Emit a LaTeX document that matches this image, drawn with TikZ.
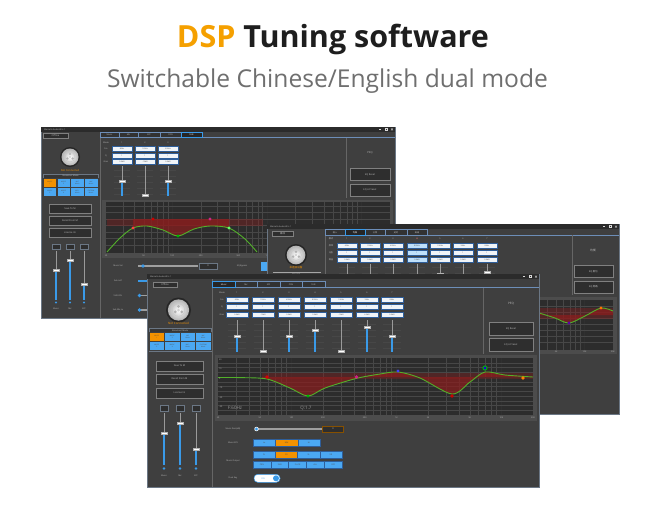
\documentclass[tikz,border=0pt]{standalone}
\usepackage{fontspec}
\setmainfont{Open Sans}
\newfontfamily\cjk{Noto Sans CJK SC}
\usetikzlibrary{calc}
\definecolor{dspor}{HTML}{F5A000}
\definecolor{ttlc}{HTML}{1E1E1E}
\definecolor{subc}{HTML}{6F6F6F}
\definecolor{winbg}{HTML}{3F3F3F}
\definecolor{tbar}{HTML}{2B2B2B}
\definecolor{edge}{HTML}{6B7785}
\definecolor{plotc}{HTML}{2C2C2C}
\definecolor{gridc}{HTML}{474747}
\definecolor{boxc}{HTML}{F0F4F8}
\definecolor{boxe}{HTML}{2E5E9A}
\definecolor{ublue}{HTML}{3A9AE8}
\definecolor{cellb}{HTML}{4BA8F2}
\definecolor{lcell}{HTML}{BFE0FA}
\definecolor{orng}{HTML}{F39200}
\definecolor{lbl}{HTML}{BDBDBD}
\definecolor{btnc}{HTML}{2E2E2E}
\definecolor{curvg}{HTML}{52B02A}
\definecolor{redf}{HTML}{8C1D1D}
\definecolor{trkc}{HTML}{9A9A9A}
\tikzset{
  win/.style={fill=winbg,draw=edge,line width=0.7pt},
  tx/.style={font=\fontsize{2.6}{3}\selectfont,text=lbl,inner sep=0pt},
  txs/.style={font=\fontsize{2.1}{2.5}\selectfont,text=lbl,inner sep=0pt},
  vbox/.style={fill=boxc,draw=boxe,line width=0.5pt,font=\fontsize{1.9}{2.3}\selectfont,text=black!70,inner sep=0pt,minimum height=5pt},
  darkbtn/.style={fill=btnc,draw=black!50,line width=0.3pt,font=\fontsize{2.4}{2.8}\selectfont,text=lbl,inner sep=0pt},
  tabfill/.style={fill=winbg!80!black,draw=boxe!70!white,line width=0.4pt},
  tabonfill/.style={fill=winbg!60!black,draw=ublue,line width=0.6pt},
  cellnode/.style={draw=winbg,line width=0.4pt,font=\fontsize{1.6}{1.9}\selectfont,text=black!70,inner sep=0pt,align=center},
  trk/.style={draw=trkc,line width=0.9pt},
  btrk/.style={draw=ublue,line width=1.1pt},
  hdl/.style={fill=white,draw=gray!60,line width=0.2pt},
  gridl/.style={draw=gridc,line width=0.3pt},
  gridm/.style={draw=gray!38!black,line width=0.35pt},
  crv/.style={draw=curvg,line width=0.9pt},
  redband/.style={fill=redf,opacity=0.38},
  reddip/.style={fill=redf,opacity=0.7},
  ctrlmark/.style={draw=white!85!black,line width=0.3pt},
  sepl/.style={draw=black!60,line width=0.5pt},
}
\newcommand\wctrls[2]{%
  \draw[ctrlmark] ({#1-15},#2)--({#1-13},#2);
  \draw[ctrlmark] ({#1-9},{#2-1}) rectangle ({#1-7},{#2+1});
  \draw[ctrlmark] ({#1-3},{#2-1})--({#1-1},{#2+1}) ({#1-3},{#2+1})--({#1-1},{#2-1});
}
\newcommand\knobdraw[3]{%
  \fill[black!85] (#1,#2) circle [radius=#3pt];
  \shade[inner color=white,outer color=gray!60] (#1,#2) circle [radius={0.85*#3pt}];
  \draw[gray!45,line width=0.3pt] (#1,#2) circle [radius={0.5*#3pt}];
  \foreach \ka in {90,210,330} \fill[gray!60] ($(#1,#2)+(\ka:{0.3*#3pt})$) circle [radius={0.12*#3pt}];
  \fill[gray!35] (#1,#2) circle [radius={0.12*#3pt}];
}
\begin{document}
\begin{tikzpicture}[x=1pt,y=-1pt]
\useasboundingbox (0,0) rectangle (660,507);
\fill[white] (0,0) rectangle (660,507);
% ---------- titles
\node[anchor=base,inner sep=0pt,font=\fontsize{30.5}{34}\selectfont\bfseries] (title) at (333,47) {\color{dspor}DSP \color{ttlc}Tuning software};
\node[anchor=base,inner sep=0pt,font=\fontsize{24.6}{29}\selectfont,text=subc] (subtitle) at (327.5,87.5) {Switchable Chinese/English dual mode};

% ================= BACK WINDOW (English) =================
\draw[win] (41,127) rectangle (395,318);
\fill[tbar] (41.35,127.35) rectangle (394.65,131.5);
\node[txs,anchor=west] (w1ttl) at (44,129.4) {Marcello Audio Wi.s.1};
\wctrls{394}{129.4}
\draw[sepl] (100,131.5)--(100,317.6);
\node[darkbtn,minimum width=25pt,minimum height=4.5pt] (w1off) at (55.5,135.5) {Offline};
\knobdraw{70}{157}{10}
\node[tx,text=orng] (w1nc) at (70,171) {Not Connected};
\draw[edge,line width=0.4pt,fill=winbg!85!black] (43,174.5) rectangle (98,196.5);
\node[txs] (w1bm) at (70.5,176.2) {Broadcast Mode};
\foreach \i/\fc/\t in {0/orng/{MUSIC\\1},1/cellb/{MUSIC\\2},2/cellb/{MIC\\Music},3/cellb/{MIC\\Music}}
  \node[cellnode,fill=\fc,minimum width=13.6pt,minimum height=8.8pt] (w1ca\i) at ({43+6.85+13.75*\i},182.6) {\t};
\foreach \i/\t in {0/{MUSIC\\3},1/{MUSIC\\4},2/{MIC+\\Music},3/{CUSTOM\\Music}}
  \node[cellnode,fill=cellb,minimum width=13.6pt,minimum height=8.8pt] (w1cb\i) at ({43+6.85+13.75*\i},191.6) {\t};
\node[darkbtn,minimum width=42pt,minimum height=9pt] (w1b1) at (70,208.5) {Save To M};
\node[darkbtn,minimum width=42pt,minimum height=9pt] (w1b2) at (70,221) {Recall From M};
\node[darkbtn,minimum width=42pt,minimum height=9pt] (w1b3) at (70,233) {License Ini};
\foreach \sx/\hy/\nm [count=\i] in {56/270/Music,70/260/Mic,84/284/EFF} {
  \node[darkbtn,draw=edge,minimum width=8pt,minimum height=5pt] (w1sb\i) at (\sx,247) {};
  \draw[trk] (\sx,251)--(\sx,\hy);
  \draw[btrk] (\sx,\hy)--(\sx,300);
  \fill[hdl] (\sx-3,\hy-1.2) rectangle (\sx+3,\hy+1.2);
  \fill[ublue] (\sx,302.5) circle [radius=1.1pt];
  \node[txs] (w1sl\i) at (\sx,309) {\nm};
}
% tabs
\draw[boxe!70!white,line width=0.4pt] (100,137.5)--(394.6,137.5);
\foreach \a/\b/\t [count=\i] in {100/119/Music,119/138/Mic,138/160/EFF,160/181/CON} {
  \draw[tabfill] (\a,132) rectangle (\b,137.5);
  \node[txs] (w1tab\i) at ({(\a+\b)/2},134.8) {\t};
}
\draw[tabonfill] (181,132) rectangle (202,137.5);
\node[txs,text=white] (w1tab5) at (191.5,134.8) {SUB};
\node[txs] (w1mode) at (106,143) {Mode};
\node[txs] (w1fre) at (106,148.5) {Fre};
\node[txs] (w1q) at (106,155.5) {Q};
\node[txs] (w1gain) at (106,161.5) {Gain};
\foreach \cx/\hy/\fv/\gv [count=\i] in {122/181/80Hz/0.0dB,145/195/120Hz/-12dB,168/181/200Hz/0.0dB} {
  \node[txs] (w1n\i) at (\cx,143) {\i};
  \node[vbox,minimum width=20pt] (w1f\i) at (\cx,148.5) {\fv};
  \node[vbox,minimum width=20pt] (w1q\i) at (\cx,155.5) {1};
  \node[vbox,minimum width=20pt] (w1g\i) at (\cx,161.8) {\gv};
  \foreach \yy in {170,176,182,188,194} \draw[gridl] (\cx-8,\yy)--(\cx+8,\yy);
  \draw[trk] (\cx,166)--(\cx,\hy);
  \draw[btrk] (\cx,\hy)--(\cx,196);
  \fill[hdl] (\cx-3,\hy-1.2) rectangle (\cx+3,\hy+1.2);
}
\draw[sepl] (346,138)--(346,198);
\node[tx] (w1peq) at (370,153) {PEQ};
\node[darkbtn,minimum width=40pt,minimum height=12pt] (w1r1) at (370,174.5) {EQ Reset};
\node[darkbtn,minimum width=40pt,minimum height=12pt] (w1r2) at (370,190) {EQ A Preset};
% graph
\fill[black!70] (102,199.5) rectangle (393,258);
\fill[plotc] (106,202) rectangle (390,253);
\foreach \r in {1.5,2,2.5,3,3.5,4,4.5,10,15,20,25,30,35,40,45,100,150,200,250,300,350,400,450}
  \draw[gridl] ({106+94.67*log10(\r)},202)--({106+94.67*log10(\r)},253);
\foreach \r in {5,50,500} \draw[gridm] ({106+94.67*log10(\r)},202)--({106+94.67*log10(\r)},253);
\foreach \yy in {206,212.5,219,225.5,232,238.5,245} \draw[gridl] (106,\yy)--(390,\yy);
\fill[redband] (107,219) rectangle (263,226);
\fill[reddip] (133,219) -- plot[smooth] coordinates {(133,228) (147,226) (163,230) (178,236) (194,229) (210,226) (229,228)} -- (229,219) -- cycle;
\draw[crv] plot[smooth] coordinates {(107,252) (120,238) (133,228) (147,226) (163,230) (178,236) (194,229) (210,226) (229,228) (245,239) (257,252)};
\fill[red!75!white] (133,228) circle [radius=1.6pt];
\fill[red!80!black] (153,219) circle [radius=1.7pt];
\fill[green!70!black] (178,236) circle [radius=1.6pt];
\fill[magenta!80!black] (210,219) circle [radius=1.7pt];
\fill[green!60!white] (229,228) circle [radius=1.6pt];
\foreach \r/\t [count=\i] in {1/20,2.5/50,5/100,10/200,25/500,50/1K} \node[txs] (w1ax\i) at ({106+94.67*log10(\r)},255.6) {\t};
% lower controls
\node[txs] (w1l1) at (118,266) {Music Vol};
\draw[gray!75,line width=1.2pt] (138,266)--(198,266);
\fill[ublue] (143,266) circle [radius=1.8pt];
\node[darkbtn,draw=edge,minimum width=18pt,minimum height=6pt] (w1v1) at (208,266) {0};
\node[txs] (w1l2) at (242,266) {EQ Bypass};
\fill[cellb] (261,262) rectangle (266.5,270.5);
\node[txs] (w1l3) at (118,281) {Sub Left};
\draw[ublue,line width=1.2pt] (138,281)--(150,281);
\node[txs] (w1l4) at (118,295.5) {SUB VOL};
\draw[gray!75,line width=1.2pt] (138,295.5)--(150,295.5);
\fill[ublue] (139.5,295.5) circle [radius=1.8pt];
\node[txs] (w1l5) at (118,310) {Sub Mix Lv};
\draw[gray!75,line width=1.2pt] (138,310)--(150,310);
\fill[ublue] (139.5,310) circle [radius=1.8pt];

% ================= MIDDLE WINDOW (Chinese) =================
\draw[win] (267,224) rectangle (619,414);
\fill[tbar] (267.35,224.35) rectangle (618.65,229);
\node[txs,anchor=west] (w2ttl) at (270,226.6) {Marcello Audio Wi.s.1};
\wctrls{618}{226.6}
\draw[sepl] (325,229)--(325,290);
\node[darkbtn,minimum width=21pt,minimum height=4.5pt,font=\cjk\fontsize{2.4}{2.8}\selectfont] (w2off) at (282.5,233.5) {离线};
\knobdraw{296}{255}{11}
\node[tx,text=orng,font=\cjk\fontsize{2.6}{3}\selectfont] (w2nc) at (296,268) {未连接设备};
\fill[black!35] (273,271.5) rectangle (321,272.5);
\node[txs,font=\cjk\fontsize{2.1}{2.5}\selectfont] (w2bt) at (296,274.5) {蓝牙连接};
\draw[boxe!70!white,line width=0.4pt] (325,235)--(618.6,235);
\foreach \a/\b/\t [count=\i] in {325/345/输入,365/385/分频,385/407/延时,407/427/高级} {
  \draw[tabfill] (\a,229.5) rectangle (\b,235);
  \node[txs,font=\cjk\fontsize{2.1}{2.5}\selectfont] (w2tab\i) at ({(\a+\b)/2},232.3) {\t};
}
\draw[tabonfill] (345,229.5) rectangle (365,235);
\node[txs,text=white,font=\cjk\fontsize{2.1}{2.5}\selectfont] (w2tabon) at (355,232.3) {均衡};
\node[txs,font=\cjk\fontsize{2.1}{2.5}\selectfont] (w2mode) at (331,239) {模式};
\node[txs,font=\cjk\fontsize{2.1}{2.5}\selectfont] (w2fre) at (331,245.5) {频率};
\node[txs,font=\cjk\fontsize{2.1}{2.5}\selectfont] (w2q) at (331,252.5) {Q值};
\node[txs,font=\cjk\fontsize{2.1}{2.5}\selectfont] (w2gain) at (331,259.5) {增益};
\foreach \cx/\hy/\fv/\bc [count=\i] in {347/300/60Hz/boxc,370/300/150Hz/boxc,393/300/400Hz/boxc,417/300/800Hz/lcell,440/274/1.5KHz/boxc,463/300/3KHz/boxc,487/272/8KHz/boxc} {
  \node[txs] (w2n\i) at (\cx,239) {\i};
  \node[vbox,fill=\bc,minimum width=20pt] (w2f\i) at (\cx,245.5) {\fv};
  \node[vbox,fill=\bc,minimum width=20pt] (w2q\i) at (\cx,252.5) {1};
  \node[vbox,fill=\bc,minimum width=20pt] (w2g\i) at (\cx,259.5) {0.0dB};
  \foreach \yy in {267,273} \draw[gridl] (\cx-8,\yy)--(\cx+8,\yy);
  \draw[trk] (\cx,263.5)--(\cx,\hy);
  \draw[btrk] (\cx,\hy)--(\cx,300);
  \fill[hdl] (\cx-3,\hy-1.2) rectangle (\cx+3,\hy+1.2);
}
\node[txs,text=red!80!white] (w2n4r) at (417,239) {4};
\draw[sepl] (572,235)--(572,295);
\node[tx,font=\cjk\fontsize{2.8}{3.2}\selectfont] (w2peq) at (593,250) {均衡};
\node[darkbtn,minimum width=39pt,minimum height=12pt,font=\cjk\fontsize{2.4}{2.8}\selectfont] (w2r1) at (593.5,271.5) {EQ 复位};
\node[darkbtn,minimum width=39pt,minimum height=12pt,font=\cjk\fontsize{2.4}{2.8}\selectfont] (w2r2) at (593.5,287) {EQ 旁路};
\fill[black!70] (326,297) rectangle (616.5,354);
\fill[plotc] (330,300) rectangle (613,349.5);
\foreach \r in {1.5,2,2.5,3,3.5,4,4.5,10,15,20,25,30,35,40,45,100,150,200,250,300,350,400,450}
  \draw[gridl] ({330+94.3*log10(\r)},300)--({330+94.3*log10(\r)},349.5);
\foreach \r in {5,50,500} \draw[gridm] ({330+94.3*log10(\r)},300)--({330+94.3*log10(\r)},349.5);
\foreach \yy in {306,312,318,324,330,336,342} \draw[gridl] (330,\yy)--(613,\yy);
\fill[redband] (330,308) rectangle (613,319);
\fill[reddip] (539,313) -- plot[smooth] coordinates {(539,313) (555,318) (569,323) (585,316) (601,308) (613,311)} -- (613,315) -- (539,315) -- cycle;
\draw[crv] plot[smooth] coordinates {(530,311) (539,313) (555,318) (569,323) (585,316) (601,308) (613,311)};
\fill[violet!70!blue] (569,323) circle [radius=1.6pt];
\fill[orange!90!red] (601,308) circle [radius=1.7pt];
\foreach \r/\t [count=\i] in {100/2K,250/5K,500/10K,1000/20K} \node[txs] (w2ax\i) at ({330+94.3*log10(\r)},351.8) {\t};

% ================= FRONT WINDOW (English) =================
\draw[win] (147,274) rectangle (539,487);
\fill[tbar] (147.35,274.35) rectangle (538.65,279);
\node[txs,anchor=west] (w3ttl) at (150,276.6) {Marcello Audio Wi.s.1};
\wctrls{538}{276.6}
\draw[sepl] (212,279)--(212,486.6);
\node[darkbtn,minimum width=24pt,minimum height=5pt] (w3off) at (165,284.5) {Offline};
\knobdraw{178.5}{310}{12.5}
\node[tx,text=orng,font=\fontsize{3}{3.4}\selectfont] (w3nc) at (178.5,323.5) {Not Connected};
\draw[edge,line width=0.4pt,fill=winbg!85!black] (149,328.5) rectangle (211,351);
\node[txs] (w3bm) at (180,330.4) {Broadcast Mode};
\foreach \i/\fc/\t in {0/orng/{MUSIC\\1},1/cellb/{MUSIC\\2},2/cellb/{MIC\\Music},3/cellb/{MIC\\Music}}
  \node[cellnode,fill=\fc,minimum width=15.3pt,minimum height=8.8pt] (w3ca\i) at ({149+7.75+15.5*\i},337) {\t};
\foreach \i/\t in {0/{MUSIC\\3},1/{MUSIC\\4},2/{MIC+\\Music},3/{CUSTOM\\Music}}
  \node[cellnode,fill=cellb,minimum width=15.3pt,minimum height=8.8pt] (w3cb\i) at ({149+7.75+15.5*\i},346) {\t};
\node[darkbtn,minimum width=47pt,minimum height=10pt] (w3b1) at (179.5,366) {Save To M};
\node[darkbtn,minimum width=47pt,minimum height=10pt] (w3b2) at (179.5,379) {Recall From M};
\node[darkbtn,minimum width=47pt,minimum height=10pt] (w3b3) at (179.5,393) {License Ini};
\foreach \sx/\hy/\nm [count=\i] in {164/433/Music,180/423/Mic,196/449/EFF} {
  \node[darkbtn,draw=edge,minimum width=8pt,minimum height=6pt] (w3sb\i) at (\sx,408) {};
  \draw[trk] (\sx,413)--(\sx,\hy);
  \draw[btrk] (\sx,\hy)--(\sx,465);
  \fill[hdl] (\sx-3.3,\hy-1.3) rectangle (\sx+3.3,\hy+1.3);
  \fill[ublue] (\sx,468.5) circle [radius=1.3pt];
  \node[txs] (w3sl\i) at (\sx,476) {\nm};
}
% tabs
\draw[boxe!70!white,line width=0.4pt] (212,287.5)--(538.6,287.5);
\foreach \a/\b/\t [count=\i] in {235/257/Mic,257/280/EFF,280/302/CON,302/325/SUB} {
  \draw[tabfill] (\a,281.5) rectangle (\b,287.5);
  \node[txs] (w3tab\i) at ({(\a+\b)/2},284.6) {\t};
}
\draw[tabonfill] (212.5,281.5) rectangle (235,287.5);
\node[txs,text=white] (w3tabon) at (223.7,284.6) {Music};
\node[txs] (w3mode) at (222,293) {Mode};
\node[txs] (w3fre) at (222,299.5) {Fre};
\node[txs] (w3q) at (222,306.5) {Q};
\node[txs] (w3gain) at (222,314.5) {Gain};
\foreach \cx/\hy/\fv/\gv [count=\i] in {237/336/60Hz/0.0dB,263/351/150Hz/-12dB,289/336/400Hz/0.0dB,315/330/800Hz/3.0dB,341/351/1.5KHz/-12dB,367/327/3KHz/4.5dB,392/336/8KHz/0.0dB} {
  \node[txs] (w3n\i) at (\cx,293) {\i};
  \node[vbox,minimum width=22pt] (w3f\i) at (\cx,299.5) {\fv};
  \node[vbox,minimum width=22pt] (w3q\i) at (\cx,306.5) {1};
  \node[vbox,minimum width=22pt] (w3g\i) at (\cx,314.5) {\gv};
  \foreach \yy in {324,330,336,342,348} \draw[gridl] (\cx-9,\yy)--(\cx+9,\yy);
  \draw[trk] (\cx,320)--(\cx,\hy);
  \draw[btrk] (\cx,\hy)--(\cx,352);
  \fill[hdl] (\cx-3.3,\hy-1.3) rectangle (\cx+3.3,\hy+1.3);
}
\draw[sepl] (483,288)--(483,354);
\node[tx,font=\fontsize{3}{3.4}\selectfont] (w3peq) at (511,304) {PEQ};
\node[darkbtn,minimum width=44pt,minimum height=13pt] (w3r1) at (511,328.5) {EQ Reset};
\node[darkbtn,minimum width=44pt,minimum height=13pt] (w3r2) at (511,344.5) {EQ A Preset};
% graph
\fill[black!70] (215,355) rectangle (537,421);
\fill[plotc] (218,358) rectangle (533,415);
\foreach \r in {1.5,2,2.5,3,3.5,4,4.5,10,15,20,25,30,35,40,45,100,150,200,250,300,350,400,450}
  \draw[gridl] ({218+105*log10(\r)},358)--({218+105*log10(\r)},415);
\foreach \r in {5,50,500} \draw[gridm] ({218+105*log10(\r)},358)--({218+105*log10(\r)},415);
\foreach \yy in {362.75,367.5,372.25,381.75,386.5,391.25,396,400.75,405.5,410.25} \draw[gridl] (218,\yy)--(533,\yy);
\draw[gridm] (218,377)--(533,377);
\fill[redband] (262,372.5) rectangle (533,378.5);
\fill[reddip] (262,377) -- plot[smooth,tension=0.5] coordinates {(262,377.8) (267,379) (290,388) (308,396) (325,388) (356,378.5) (380,374) (398,372) (420,378) (452,394) (470,382) (485,372) (505,375) (533,377)} -- cycle;
\draw[crv] plot[smooth,tension=0.5] coordinates {(218,377.5) (240,377.6) (267,379) (290,388) (308,396) (325,388) (356,378.5) (380,374) (398,372) (420,378) (452,394) (470,382) (485,372) (505,375) (533,377)};
\fill[red!85!black] (267,377) circle [radius=1.8pt];
\fill[green!70!black] (308,396) circle [radius=1.7pt];
\fill[magenta!85!black] (356.5,377) circle [radius=1.8pt];
\fill[blue!75!white] (398,371) circle [radius=1.7pt];
\fill[red!80!black] (452,396) circle [radius=1.8pt];
\fill[green!70!black] (485,368) circle [radius=2.6pt];
\fill[blue!70!violet] (485,368) circle [radius=1.6pt];
\fill[orange] (523,378) circle [radius=1.8pt];
\node[tx,text=gray!80,font=\fontsize{4.5}{5.5}\selectfont] (w3fq) at (235,408) {F:60Hz};
\node[tx,text=gray!80,font=\fontsize{4.5}{5.5}\selectfont] (w3qq) at (306,408) {Q:1.7};
\foreach \yy/\t [count=\i] in {358/20,367.5/10,377/0,386.5/-10,396/-20,405.5/-30} \node[txs,anchor=west] (w3ay\i) at (219,\yy+1.5) {\t};
\foreach \r/\t [count=\i] in {1/20,2.5/50,5/100,10/200,25/500,50/1K,100/2K,250/5K,500/10K,1000/20K} \node[txs] (w3ax\i) at ({218+105*log10(\r)},418) {\t};
% lower controls
\node[txs] (w3l1) at (233,429) {Music Gain(dB)};
\draw[gray!75,line width=1.3pt] (256,429)--(322,429);
\fill[white] (256.5,429) circle [radius=2.2pt];
\fill[ublue] (256.5,429) circle [radius=1.6pt];
\node[darkbtn,draw=orng!55!black,line width=0.5pt,minimum width=21pt,minimum height=5.5pt] (w3v1) at (333,429) {0};
\node[txs] (w3l2) at (233,442.5) {Music EFX};
\foreach \i/\fc/\t in {0/cellb/Lo,1/orng/Mid,2/cellb/Hi}
  \node[cellnode,fill=\fc,draw=boxe,minimum width=22.3pt,minimum height=7pt,font=\fontsize{2}{2.4}\selectfont] (w3e\i) at ({253+11.2+22.35*\i},442.5) {\t};
\node[txs] (w3l3) at (233,461) {Music Output};
\foreach \i/\fc/\t in {0/cellb/FL,1/orng/FR,2/cellb/SL,3/cellb/SR}
  \node[cellnode,fill=\fc,draw=boxe,minimum width=22.2pt,minimum height=7pt,font=\fontsize{2}{2.4}\selectfont] (w3o\i) at ({253+11.125+22.25*\i},454.5) {\t};
\foreach \i/\t in {0/CEN,1/SUB,2/FL+FR,3/ALL,4/OFF}
  \node[cellnode,fill=cellb,draw=boxe,minimum width=17.7pt,minimum height=7pt,font=\fontsize{2}{2.4}\selectfont] (w3p\i) at ({253+8.9+17.8*\i},464.8) {\t};
\node[txs] (w3l4) at (233,478.3) {Dual Key};
\draw[fill=white,draw=ublue,line width=0.5pt,rounded corners=3.7pt] (254,474.3) rectangle (280,482.3);
\fill[ublue] (276,478.3) circle [radius=3pt];
\node[txs,text=ublue] (w3on) at (263,478.3) {ON};
\end{tikzpicture}
\end{document}
